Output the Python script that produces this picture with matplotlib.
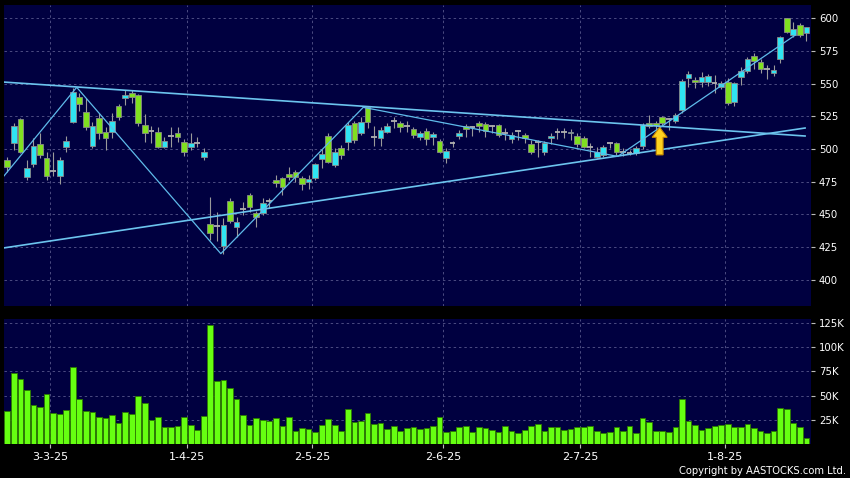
import numpy as np
import matplotlib
matplotlib.use('Agg')
import matplotlib.pyplot as plt
from matplotlib.patches import FancyArrow

# daily candles, one per trading day (index 0 = 20-2-25)
opens = [491.6, 504.8, 522.7, 478.9, 488.5, 503.8, 492.9, 483.4, 479.4, 501.8,
         520.8, 539.5, 528.0, 502.3, 523.4, 513.2, 513.2, 532.8, 538.7, 542.7,
         541.0, 518.1, 513.7, 513.2, 501.8, 509.9, 512.0, 505.1, 501.3, 504.8,
         493.7, 442.5, 441.0, 426.0, 460.3, 440.0, 454.0, 464.9, 450.9, 450.9,
         460.3, 476.3, 477.6, 480.8, 482.7, 478.1, 475.0, 478.1, 492.1, 509.9,
         487.8, 500.5, 505.6, 520.1, 512.0, 531.8, 509.5, 508.2, 513.2, 521.3,
         520.1, 517.9, 515.0, 508.9, 514.0, 508.9, 506.3, 493.4, 504.8, 509.9,
         517.8, 516.8, 520.1, 519.1, 517.6, 518.1, 512.5, 507.4, 514.0, 510.7,
         503.8, 505.6, 498.0, 508.2, 513.0, 513.2, 512.0, 509.9, 508.2, 501.3,
         493.7, 495.4, 504.8, 504.3, 498.0, 497.2, 497.2, 502.3, 519.8, 519.5,
         524.7, 522.7, 521.6, 529.8, 554.0, 552.7, 551.4, 551.4, 550.1, 547.1,
         551.4, 536.1, 554.7, 559.8, 571.0, 566.6, 560.8, 557.8, 568.5, 599.8,
         587.0, 594.7, 588.3]
highs = [493.9, 519.8, 523.5, 491.6, 508.4, 512.2, 497.7, 498.0, 493.7, 509.9,
         546.6, 542.7, 538.7, 520.6, 527.5, 517.0, 527.5, 534.3, 545.0, 545.4,
         542.0, 526.5, 517.5, 516.4, 509.4, 517.0, 516.6, 507.4, 512.0, 509.4,
         500.5, 463.6, 452.0, 447.0, 462.6, 448.3, 459.8, 466.0, 452.9, 462.4,
         462.4, 480.1, 478.5, 486.5, 484.0, 479.4, 480.1, 489.6, 499.8, 512.0,
         500.5, 503.0, 520.8, 521.6, 524.7, 532.8, 517.5, 517.0, 519.6, 524.7,
         521.6, 521.6, 517.0, 513.7, 515.8, 513.2, 507.6, 500.5, 506.3, 514.5,
         518.9, 517.5, 521.6, 520.8, 518.4, 519.1, 515.8, 513.2, 514.5, 512.4,
         506.9, 506.9, 506.3, 512.0, 515.8, 515.8, 515.0, 512.0, 509.9, 504.3,
         501.8, 503.0, 505.6, 505.3, 500.5, 499.0, 502.3, 519.6, 526.0, 521.0,
         525.2, 523.4, 527.5, 553.2, 559.8, 555.2, 559.0, 557.5, 556.5, 552.0,
         554.0, 551.4, 562.8, 570.0, 573.0, 568.5, 564.0, 564.0, 586.6, 600.0,
         597.2, 596.0, 593.4]
lows = [482.4, 499.2, 497.0, 476.3, 486.3, 493.1, 476.3, 479.0, 473.3, 498.0,
        520.0, 529.2, 514.5, 500.5, 507.6, 499.2, 508.4, 522.1, 533.6, 535.0,
        517.5, 505.6, 504.3, 500.5, 500.5, 501.8, 505.6, 494.6, 499.2, 501.8,
        491.6, 430.5, 430.0, 419.5, 443.3, 432.6, 449.6, 452.1, 440.7, 449.6,
        454.7, 471.2, 464.9, 476.3, 475.0, 468.7, 469.5, 476.3, 485.3, 489.0,
        486.5, 492.1, 499.2, 504.8, 510.7, 515.8, 502.0, 502.3, 512.0, 515.8,
        513.2, 513.2, 508.2, 506.9, 503.0, 503.0, 496.7, 489.0, 501.3, 507.4,
        509.4, 509.9, 513.0, 508.9, 512.0, 508.9, 506.9, 504.8, 507.0, 504.3,
        496.2, 494.1, 495.4, 503.8, 507.4, 508.0, 506.5, 501.8, 500.5, 494.1,
        492.9, 494.1, 500.5, 495.4, 494.6, 495.0, 495.4, 499.8, 515.8, 514.0,
        518.3, 514.5, 519.8, 527.7, 547.1, 546.3, 547.1, 547.9, 542.5, 546.0,
        533.6, 532.8, 548.9, 557.8, 560.8, 557.8, 553.4, 556.0, 565.9, 588.5,
        585.3, 585.7, 582.7]
closes = [486.5, 517.6, 497.9, 485.3, 502.3, 495.6, 479.4, 483.4, 491.6, 506.1,
          543.7, 534.3, 517.0, 517.8, 512.4, 508.2, 521.6, 524.7, 541.2, 540.0,
          519.6, 512.0, 513.7, 501.8, 506.3, 509.9, 509.4, 497.5, 504.3, 504.8,
          498.0, 435.6, 441.0, 442.0, 445.0, 444.1, 454.0, 456.0, 448.3, 458.5,
          460.3, 474.3, 471.2, 478.9, 478.6, 473.0, 477.1, 488.3, 496.2, 489.8,
          498.0, 495.4, 518.3, 506.9, 520.8, 520.8, 509.5, 514.5, 517.5, 521.3,
          516.6, 517.9, 510.7, 512.4, 507.4, 511.4, 497.9, 498.7, 504.8, 512.0,
          515.0, 516.8, 517.8, 514.0, 517.6, 510.7, 512.5, 510.7, 514.0, 508.2,
          497.9, 505.6, 504.8, 509.7, 513.0, 513.2, 513.0, 503.8, 501.8, 501.3,
          498.0, 501.8, 504.8, 498.0, 498.0, 497.2, 500.5, 518.3, 517.2, 518.0,
          519.6, 522.7, 526.0, 552.1, 557.2, 551.0, 555.2, 555.7, 550.1, 550.1,
          534.9, 550.1, 559.5, 568.5, 567.2, 561.1, 560.8, 560.3, 585.7, 589.5,
          591.6, 587.0, 592.9]
# volume in thousands of shares
volumes_k = [34.4, 73.7, 67.2, 56.1, 40.0, 38.6, 51.7, 32.4, 31.0, 35.1,
             79.2, 46.1, 34.1, 33.4, 27.5, 27.2, 30.3, 22.1, 33.4, 31.3,
             49.6, 42.0, 24.8, 27.5, 17.2, 17.2, 18.6, 27.9, 19.3, 14.1,
             28.9, 123.3, 65.1, 66.1, 57.5, 46.5, 30.0, 20.0, 27.2, 24.5,
             24.1, 26.9, 18.6, 28.2, 13.8, 16.5, 15.2, 12.7, 19.6, 25.5,
             19.6, 13.8, 35.8, 23.0, 24.1, 32.4, 21.0, 22.0, 15.5, 18.6,
             13.8, 16.2, 17.2, 15.2, 16.2, 18.6, 27.5, 12.0, 13.8, 17.9,
             18.6, 12.4, 17.9, 16.2, 14.5, 12.4, 18.6, 13.8, 11.0, 14.5,
             18.6, 20.3, 13.8, 17.6, 17.2, 14.5, 15.2, 17.9, 17.9, 18.6,
             13.8, 11.0, 12.7, 17.9, 13.8, 18.6, 11.0, 27.2, 23.0, 13.4,
             13.4, 12.7, 17.2, 46.5, 24.1, 19.6, 14.5, 16.5, 18.9, 19.6,
             20.7, 17.2, 17.2, 20.3, 16.5, 13.1, 11.3, 13.8, 37.5, 36.2,
             22.0, 17.2, 6.5]

# month boundaries (left edge of first trading day of each month)
date_pos = [6.5, 27.5, 46.5, 66.5, 87.5, 109.5]
date_labels = ['3-3-25', '1-4-25', '2-5-25', '2-6-25', '2-7-25', '1-8-25']
price_ticks = [400, 425, 450, 475, 500, 525, 550, 575, 600]
vol_ticks = [25000, 50000, 75000, 100000, 125000]
vol_tick_labels = ['25K', '50K', '75K', '100K', '125K']

# drawn trend lines, (bar index, price)
upper_x, upper_y = [-0.5, 121.8], [551.1, 509.9]
lower_x, lower_y = [-0.5, 121.8], [424.4, 516.0]
zigzag_x = [-0.5, 10.6, 32.6, 54.35, 93.2, 120.3]
zigzag_y = [479.4, 547.1, 420.0, 531.8, 494.3, 587.0]
signal_x, signal_base, signal_tip = 99.6, 495.5, 516.5

navy = '#000040'
gridc = '#4c4c82'
cyan = '#2fe4f2'
green = '#80e020'
wickc = '#9a9a9a'
linec = '#5fbbea'

o = np.array(opens)
h = np.array(highs)
l = np.array(lows)
c = np.array(closes)
v = np.array(volumes_k) * 1000
x = np.arange(len(o))

fig = plt.figure(figsize=(8.5, 4.78), dpi=100, facecolor='black')
ax = fig.add_axes([4 / 850, 1 - 306 / 478, 806.7 / 850, 301 / 478])
axv = fig.add_axes([4 / 850, 1 - 444 / 478, 806.7 / 850, 124.7 / 478])

for a in (ax, axv):
    a.set_facecolor(navy)
    for s in a.spines.values():
        s.set_visible(False)
    a.set_xlim(-0.5, 122.66)
    a.yaxis.tick_right()
    a.set_xticks(date_pos)
    a.grid(True, color=gridc, linestyle=(0, (2.5, 3)), linewidth=0.7)
    a.set_axisbelow(True)
    a.tick_params(axis='y', colors='#bbbbbb', labelcolor='white', length=3,
                  width=0.8, pad=3, labelsize=7.3)

# price panel
ax.set_ylim(380, 610)
ax.set_yticks(price_ticks)
ax.tick_params(axis='x', length=0, labelbottom=False)

ax.vlines(x, l, h, color=wickc, lw=0.8, zorder=2)
up = c > o
dn = c < o
fl = c == o
ax.bar(x[up], (c - o)[up], bottom=o[up], width=0.87, color=cyan,
       edgecolor='#8a8a8a', linewidth=0.6, zorder=3)
ax.bar(x[dn], (o - c)[dn], bottom=c[dn], width=0.87, color=green,
       edgecolor='#8a8a8a', linewidth=0.6, zorder=3)
ax.hlines(c[fl], x[fl] - 0.43, x[fl] + 0.43, color='#b0b0b0', lw=1.3, zorder=3)

ax.plot(upper_x, upper_y, color='#6cc4ee', lw=1.2, zorder=4)
ax.plot(lower_x, lower_y, color='#6cc4ee', lw=1.2, zorder=4)
ax.plot(zigzag_x, zigzag_y, color=linec, lw=0.9, zorder=4)

ax.add_patch(FancyArrow(signal_x, signal_base, 0, signal_tip - signal_base,
                        width=1.05, head_width=2.3, head_length=7.6,
                        length_includes_head=True, facecolor='#ffd21f',
                        edgecolor='#c88a00', linewidth=0.8, zorder=6))

# volume panel
axv.set_ylim(0, 128800)
axv.set_yticks(vol_ticks)
axv.set_yticklabels(vol_tick_labels)
axv.bar(x, v, width=0.87, color='#66ff11', edgecolor='#2c7a00',
        linewidth=0.6, zorder=3)
axv.set_xticklabels(date_labels)
axv.tick_params(axis='x', colors='#bbbbbb', labelcolor='white', length=3,
                width=0.8, pad=3, labelsize=8)

fig.text(846 / 850, 1 - 471.5 / 478, 'Copyright by AASTOCKS.com Ltd.',
         ha='right', va='center', color='white', fontsize=7.2)

fig.savefig('out.png', dpi=100, facecolor='black')
